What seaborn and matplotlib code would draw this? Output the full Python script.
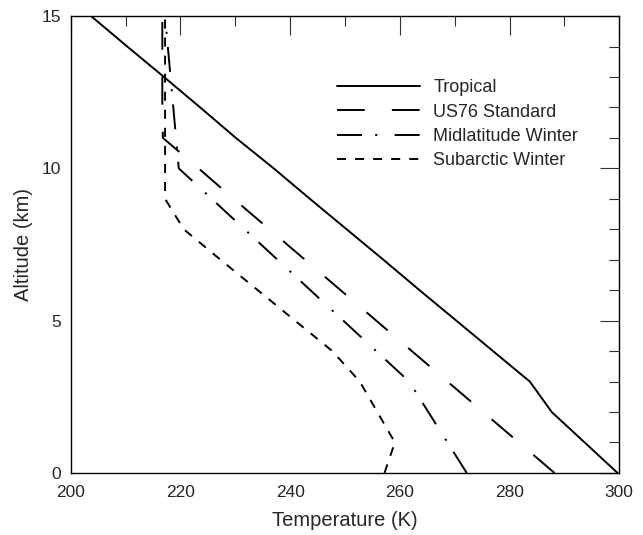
import numpy as np
import pandas as pd
import matplotlib
matplotlib.use("Agg")
import matplotlib.pyplot as plt
import seaborn as sns

sns.set_style("white")
plt.rcParams['font.family'] = ['Liberation Sans', 'DejaVu Sans']
plt.rcParams['lines.scale_dashes'] = False

altitude = [0, 1, 2, 3, 4, 5, 6, 7, 8, 9, 10, 11, 12, 13, 14, 15]
tropical = [299.7, 293.7, 287.7, 283.7, 277.0, 270.3, 263.6, 257.0, 250.3, 243.6,
            237.0, 230.1, 223.6, 217.0, 210.3, 203.7]
us76 = [288.2, 281.7, 275.2, 268.7, 262.2, 255.7, 249.2, 242.7, 236.2, 229.7,
        223.3, 216.8, 216.7, 216.7, 216.7, 216.7]
midlat_winter = [272.2, 268.7, 265.2, 261.7, 255.7, 249.7, 243.7, 237.7, 231.7, 225.7,
                 219.7, 219.2, 218.7, 218.2, 217.7, 217.2]
subarctic_winter = [257.2, 259.1, 255.9, 252.7, 247.7, 240.9, 234.1, 227.3, 220.6, 217.2,
                    217.2, 217.2, 217.2, 217.2, 217.2, 217.2]
labels = ["Tropical", "US76 Standard", "Midlatitude Winter", "Subarctic Winter"]
series = [tropical, us76, midlat_winter, subarctic_winter]

rows = []
for lab, vals in zip(labels, series):
    for z, t in zip(altitude, vals):
        rows.append({"Profile": lab, "Temperature": t, "Altitude": z})
df = pd.DataFrame(rows)

dash_styles = {
    "Tropical": "",
    "US76 Standard": (20, 19.5),
    "Midlatitude Winter": (18, 9.5, 1.5, 12.5),
    "Subarctic Winter": (6.5, 6.5),
}

fig = plt.figure(figsize=(6.43, 5.35), dpi=100)
ax = fig.add_axes([0.110, 0.116, 0.853, 0.854])

sns.lineplot(data=df, x="Temperature", y="Altitude", hue="Profile", style="Profile",
             hue_order=labels, style_order=labels,
             palette=["black"] * 4, dashes=dash_styles,
             sort=False, estimator=None, linewidth=1.4, ax=ax)

ax.set_xlim(200, 300)
ax.set_ylim(0, 15)
ax.set_xticks(np.arange(200, 301, 20))
ax.set_xticks(np.arange(210, 300, 20), minor=True)
ax.set_yticks([0, 5, 10, 15])
ax.set_yticks([1, 2, 3, 4, 6, 7, 8, 9, 11, 12, 13, 14], minor=True)
ax.tick_params(which='both', direction='in', top=True, right=True,
               labelsize=12.5, width=0.8, color='#333333')
ax.tick_params(axis='x', which='both', pad=8.5)
ax.tick_params(axis='y', which='both', pad=7)
ax.tick_params(which='major', length=13.5)
ax.tick_params(which='minor', length=7)
for s in ax.spines.values():
    s.set_color('black')
    s.set_linewidth(1.0)
ax.set_xlabel("Temperature (K)", fontsize=14.5, labelpad=8)
ax.set_ylabel("Altitude (km)", fontsize=14.5, labelpad=6)

leg = ax.legend(loc='upper left', bbox_to_anchor=(0.473, 0.877), borderaxespad=0,
                frameon=False, fontsize=13, handlelength=4.6, handletextpad=0.72,
                labelspacing=0.4)
for line in leg.get_lines():
    line.set_linewidth(1.4)

fig.savefig("out.png", dpi=100)
